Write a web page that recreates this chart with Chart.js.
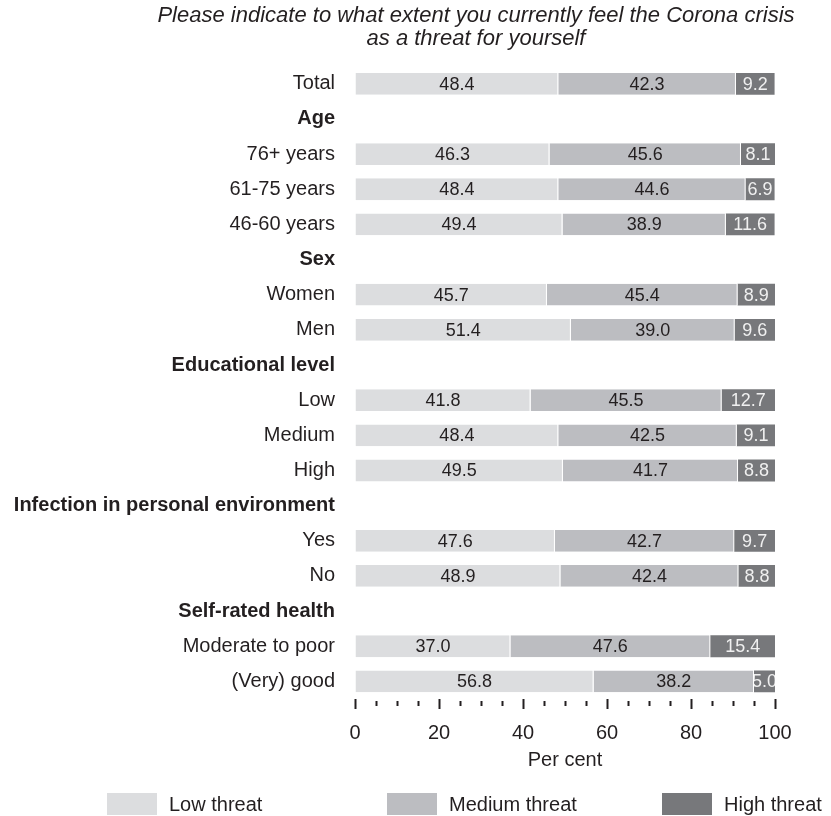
<!DOCTYPE html>
<html>
<head>
<meta charset="utf-8">
<script src="https://cdn.jsdelivr.net/npm/chart.js@4.4.1/dist/chart.umd.min.js"></script>
<style>
  html, body { margin: 0; padding: 0; background: #fff; }
  canvas { display: block; }
</style>
</head>
<body>
<canvas id="chartThreat" width="831" height="816"></canvas>
<script>
var rowLabels = [
    'Total',
    'Age', '76+ years', '61-75 years', '46-60 years',
    'Sex', 'Women', 'Men',
    'Educational level', 'Low', 'Medium', 'High',
    'Infection in personal environment', 'Yes', 'No',
    'Self-rated health', 'Moderate to poor', '(Very) good'
];
var headerRows = ['Age', 'Sex', 'Educational level', 'Infection in personal environment', 'Self-rated health'];

var lowThreat    = [48.4, null, 46.3, 48.4, 49.4, null, 45.7, 51.4, null, 41.8, 48.4, 49.5, null, 47.6, 48.9, null, 37.0, 56.8];
var mediumThreat = [42.3, null, 45.6, 44.6, 38.9, null, 45.4, 39.0, null, 45.5, 42.5, 41.7, null, 42.7, 42.4, null, 47.6, 38.2];
var highThreat   = [9.2,  null, 8.1,  6.9,  11.6, null, 8.9,  9.6,  null, 12.7, 9.1,  8.8,  null, 9.7,  8.8,  null, 15.4, 5.0];

var seriesNames = ['Low threat', 'Medium threat', 'High threat'];
var seriesColors = ['#dcdddf', '#bcbdc1', '#77787b'];
var tickLabels = [0, 20, 40, 60, 80, 100];

var fontFamily = "'Liberation Sans', Arial, sans-serif";
var textColor = '#231f20';

Chart.defaults.font.family = fontFamily;
Chart.defaults.color = textColor;

// numbers inside the bar segments, clipped to the segment like the original
var segmentLabels = {
    id: 'segmentLabels',
    afterDatasetsDraw: function (chart) {
        var ctx = chart.ctx;
        chart.data.datasets.forEach(function (ds, di) {
            var meta = chart.getDatasetMeta(di);
            meta.data.forEach(function (bar, i) {
                var v = ds.data[i];
                if (v === null || v === undefined) return;
                var p = bar.getProps(['x', 'y', 'base', 'height'], true);
                var left = Math.min(p.x, p.base);
                var right = Math.max(p.x, p.base);
                ctx.save();
                ctx.beginPath();
                ctx.rect(left, p.y - p.height / 2, right - left, p.height);
                ctx.clip();
                ctx.font = '18px ' + fontFamily;
                ctx.textAlign = 'center';
                ctx.textBaseline = 'middle';
                ctx.fillStyle = di === 2 ? '#f0f0f0' : textColor;
                ctx.fillText(v.toFixed(1), (left + right) / 2, p.y + 1);
                ctx.restore();
            });
        });
    }
};

// title sits off-centre in the original, legend spread out under the axis
var placeBoxes = {
    id: 'placeBoxes',
    afterLayout: function (chart) {
        var t = chart.titleBlock;
        var dx = 476 - (t.left + t.right) / 2;
        t.left += dx;
        t.right += dx;
    },
    afterDraw: function (chart) {
        var ctx = chart.ctx;
        var legendX = [107, 387, 662];
        var cy = chart.height - 12;
        ctx.save();
        ctx.font = '20px ' + fontFamily;
        ctx.textAlign = 'left';
        ctx.textBaseline = 'middle';
        chart.data.datasets.forEach(function (ds, di) {
            ctx.fillStyle = ds.backgroundColor;
            ctx.fillRect(legendX[di], cy - 11, 50, 22);
            ctx.fillStyle = textColor;
            ctx.fillText(ds.label, legendX[di] + 62, cy + 1);
        });
        ctx.restore();
    }
};

var ctxThreat = document.getElementById('chartThreat');

var chartThreat = new Chart(ctxThreat, {
    type: 'bar',
    data: {
        labels: rowLabels,
        datasets: [{
            label: seriesNames[0],
            data: lowThreat,
            backgroundColor: seriesColors[0],
            borderColor: '#ffffff',
            borderWidth: { left: 0, top: 0, bottom: 0, right: 1 },
            borderSkipped: false
        }, {
            label: seriesNames[1],
            data: mediumThreat,
            backgroundColor: seriesColors[1],
            borderColor: '#ffffff',
            borderWidth: { left: 0, top: 0, bottom: 0, right: 1 },
            borderSkipped: false
        }, {
            label: seriesNames[2],
            data: highThreat,
            backgroundColor: seriesColors[2],
            borderWidth: 0
        }]
    },
    options: {
        indexAxis: 'y',
        responsive: false,
        animation: false,
        barPercentage: 0.62,
        categoryPercentage: 1,
        layout: {
            padding: { top: 0, left: 0, right: 56, bottom: 44 }
        },
        scales: {
            x: {
                stacked: true,
                min: 0,
                max: 100,
                border: { display: false },
                grid: {
                    drawOnChartArea: false,
                    drawTicks: true,
                    tickLength: 10,
                    tickWidth: 2,
                    tickColor: textColor,
                    tickBorderDash: function (c) {
                        return tickLabels.indexOf(c.tick.value) >= 0 ? [] : [0, 2, 5, 20];
                    }
                },
                ticks: {
                    stepSize: 5,
                    autoSkip: false,
                    maxRotation: 0,
                    padding: 12,
                    color: textColor,
                    font: { size: 20 },
                    callback: function (value) {
                        return tickLabels.indexOf(value) >= 0 ? value : '';
                    }
                },
                title: {
                    display: true,
                    text: 'Per cent',
                    color: textColor,
                    font: { size: 20 },
                    padding: { top: -9, bottom: 0 }
                }
            },
            y: {
                stacked: true,
                border: { display: false },
                grid: { display: false, drawTicks: false },
                ticks: {
                    padding: 20,
                    color: textColor,
                    font: function (c) {
                        var isHeader = headerRows.indexOf(rowLabels[c.index]) >= 0;
                        return { size: 20, weight: isHeader ? 'bold' : 'normal' };
                    }
                },
                afterFit: function (scale) {
                    scale.width = 355;
                }
            }
        },
        plugins: {
            legend: { display: false },
            tooltip: { enabled: false },
            title: {
                display: true,
                text: ['Please indicate to what extent you currently feel the Corona crisis', 'as a threat for yourself'],
                color: textColor,
                font: { size: 22, style: 'italic', weight: 'normal', lineHeight: 1.05 },
                padding: { top: 4, bottom: 16 }
            }
        }
    },
    plugins: [segmentLabels, placeBoxes]
});
</script>
</body>
</html>
